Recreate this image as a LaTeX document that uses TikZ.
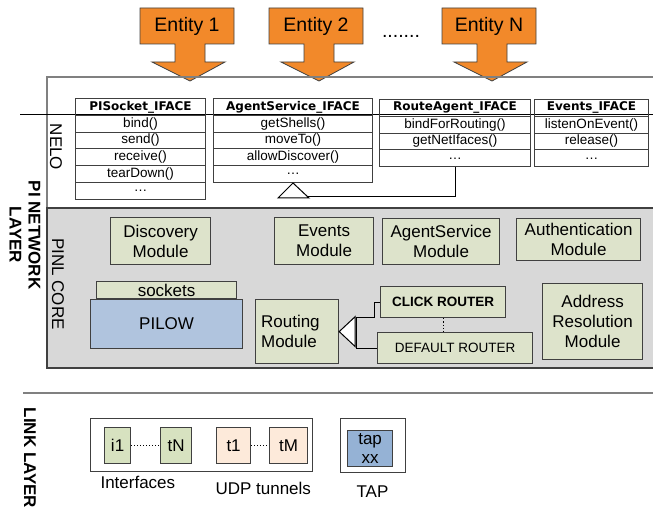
\documentclass[tikz,border=0pt]{standalone}
\usepackage{fontspec}
\setmainfont{Liberation Sans}
\newfontfamily\tahoma{DejaVu Sans}
\usetikzlibrary{positioning}
\definecolor{linegray}{RGB}{64,64,64}
\definecolor{sepgray}{RGB}{128,128,128}
\definecolor{entorange}{RGB}{242,137,42}
\definecolor{modfill}{RGB}{221,227,203}
\definecolor{coregray}{RGB}{216,216,216}
\definecolor{pilowblue}{RGB}{176,196,222}
\definecolor{tapblue}{RGB}{149,178,213}
\definecolor{ifgreen}{RGB}{215,226,192}
\definecolor{peach}{RGB}{253,234,218}
\tikzset{
  entity/.style={draw=linegray,fill=entorange,line width=.8pt},
  entitytext/.style={font=\fontsize{19.5}{22}\selectfont},
  module/.style={draw=linegray,fill=modfill,line width=1.2pt,inner sep=0pt,
    align=center,anchor=north west,font=\fontsize{17}{20}\selectfont},
  ifhead/.style={draw=linegray,line width=1pt,inner sep=0pt,anchor=north west,
    minimum height=16.8pt,font=\tahoma\bfseries\fontsize{12}{14}\selectfont},
  ifrow/.style={ifhead,font=\fontsize{13.5}{15}\selectfont},
  router/.style={module,font=\fontsize{13.5}{16}\selectfont},
  linkbox/.style={module,font=\fontsize{17}{20}\selectfont},
  layer/.style={rotate=-90,align=center,font=\bfseries\fontsize{17}{19}\selectfont},
  sublayer/.style={rotate=-90,font=\fontsize{17}{20}\selectfont},
  plain/.style={anchor=base west,font=\fontsize{17}{20}\selectfont}
}
\begin{document}
\begin{tikzpicture}[x=1pt,y=-1pt]
\useasboundingbox (0,0) rectangle (653,510);
% entities
\foreach \x/\t/\n in {140/Entity 1/e1,269/Entity 2/e2,442/Entity N/en}{
  \draw[entity] (\x,8) -- ++(94,0) -- ++(0,36) -- ++(-29,0) -- ++(0,18)
    -- ++(20,0) -- (\x+50,81) -- (\x+12,62) -- ++(23,0) -- ++(0,-18)
    -- (\x,44) -- cycle;
  \node[entitytext] (\n) at (\x+47,26) {\t};
}
\node[entitytext] (edots) at (401,36) {.......};
% NELO
\draw[draw=sepgray,line width=1.2pt] (47,208) -- (47,77) -- (660,77);
\draw[line width=1pt] (20,115) -- (660,115);
\node[sublayer] (nelo) at (56,147) {NELO};
\node[ifhead,minimum width=130pt] (pis) at (75,98) {PISocket\_IFACE};
\foreach \r [count=\i] in {bind(),send(),receive(),tearDown(),\ldots}
  \node[ifrow,minimum width=130pt] (pis\i) at (75,98+16.8*\i) {\r};
\node[ifhead,minimum width=159pt] (as) at (213,98) {AgentService\_IFACE};
\foreach \r [count=\i] in {getShells(),moveTo(),allowDiscover(),\ldots}
  \node[ifrow,minimum width=159pt] (as\i) at (213,98+16.8*\i) {\r};
\node[ifhead,minimum width=151pt] (ra) at (379,99) {RouteAgent\_IFACE};
\foreach \r [count=\i] in {bindForRouting(),getNetIfaces(),\ldots}
  \node[ifrow,minimum width=151pt] (ra\i) at (379,99+16.8*\i) {\r};
\node[ifhead,minimum width=114pt] (ev) at (534,99) {Events\_IFACE};
\foreach \r [count=\i] in {listenOnEvent(),release(),\ldots}
  \node[ifrow,minimum width=114pt] (ev\i) at (534,99+16.8*\i) {\r};
\draw[line width=1pt,fill=white] (as4.south) -- ++(16,15) -- ++(-31,0) -- cycle;
\coordinate (inh) at (308,197);
\draw[line width=1pt] (ra3.south) |- (inh);
% PINL core
\draw[draw=linegray,fill=coregray,line width=1.5pt] (47,208) rectangle (660,368);
\node[layer] (pinet) at (25,235) {PI NETWORK\\LAYER};
\node[sublayer] (core) at (58,284) {PINL CORE};
\node[module,minimum width=100pt,minimum height=47pt] (disc) at (110,217) {Discovery\\Module};
\node[module,minimum width=99pt,minimum height=47pt] (evm) at (274,217) {Events\\Module};
\node[module,minimum width=117pt,minimum height=46pt] (asm) at (382,218) {AgentService\\Module};
\node[module,minimum width=124pt,minimum height=42pt] (auth) at (516,218) {Authentication\\Module};
\node[module,minimum width=140pt,minimum height=17pt] (sock) at (96,281) {sockets};
\node[module,fill=pilowblue,minimum width=152pt,minimum height=49pt] (pilow) at (90,299) {PILOW};
\node[module,align=left,text width=72pt,minimum width=83pt,minimum height=64pt] (rout) at (255,299) {Routing\\Module};
\node[router,font=\bfseries\fontsize{13.5}{16}\selectfont,minimum width=125pt,minimum height=31pt] (click) at (380,286) {CLICK ROUTER};
\node[router,minimum width=155pt,minimum height=31pt] (deflt) at (377,332) {DEFAULT ROUTER};
\node[module,minimum width=100pt,minimum height=76pt] (addr) at (542,283) {Address\\Resolution\\Module};
\draw[line width=1pt,fill=white] (rout.east) -- ++(16,-15) -- ++(0,30) -- cycle;
\coordinate (rtj) at (356,318);
\draw[line width=1pt] (click.west) -- ++(-6,0) |- (rtj);
\draw[line width=1pt] (deflt.west) -| (rtj);
\draw[dotted,line width=1.2pt] (click.south) -- (click.south |- deflt.north);
% link layer
\draw[sepgray,line width=2pt] (23,393) -- (660,393);
\node[layer] (link) at (30,458) {LINK LAYER};
\node[linkbox,fill=white,minimum width=222pt,minimum height=53pt] (ifs) at (90,418) {};
\node[linkbox,fill=ifgreen,minimum width=26pt,minimum height=36pt] (i1) at (104,427) {i1};
\node[linkbox,fill=ifgreen,minimum width=31pt,minimum height=36pt] (tN) at (160,427) {tN};
\node[linkbox,fill=peach,minimum width=34pt,minimum height=36pt] (t1) at (216,427) {t1};
\node[linkbox,fill=peach,minimum width=38pt,minimum height=36pt] (tM) at (269,427) {tM};
\draw[dotted,line width=1pt] (i1) -- (tN);
\draw[dotted,line width=1pt] (t1) -- (tM);
\node[linkbox,fill=white,minimum width=65pt,minimum height=54pt] (tapbox) at (340,418) {};
\node[linkbox,fill=tapblue,font=\fontsize{17}{19}\selectfont,minimum width=45pt,minimum height=36pt] (tapxx) at (347,430) {tap\\xx};
\node[plain] (lifs) at (97,488) {Interfaces};
\node[plain] (ludp) at (212,494) {UDP tunnels};
\node[plain] (ltap) at (353,497) {TAP};
\end{tikzpicture}
\end{document}
